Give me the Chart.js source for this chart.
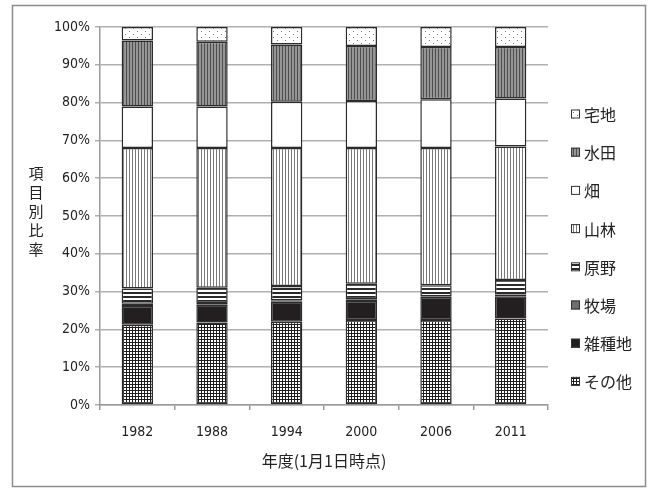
<!DOCTYPE html>
<html>
<head>
<meta charset="utf-8">
<script src="https://cdn.jsdelivr.net/npm/chart.js@4/dist/chart.umd.min.js"></script>
<style>
  html, body { margin: 0; padding: 0; background: #fff; }
  #wrap { width: 652px; height: 489px; position: relative; }
</style>
</head>
<body>
<div id="wrap"><canvas id="c" width="652" height="489"></canvas></div>
<script>
// 年度ごとの土地利用項目別比率（%）
const years = ['1982', '1988', '1994', '2000', '2006', '2011'];
const sonota   = [21.2, 21.8, 22.0, 22.5, 22.5, 22.9]; // その他
const zasshuchi = [5.0, 4.7, 5.3, 5.0, 6.1, 5.9];      // 雑種地
const bokujo   = [0.6, 0.5, 0.4, 0.5, 0.2, 0.4];       // 牧場
const genya    = [4.0, 4.0, 3.8, 4.1, 2.9, 3.9];       // 原野
const sanrin   = [37.2, 37.0, 36.5, 35.9, 36.3, 35.3]; // 山林
const hatake   = [11.0, 11.0, 12.2, 12.4, 12.9, 12.7]; // 畑
const suiden   = [17.4, 17.1, 15.2, 14.6, 13.8, 13.6]; // 水田
const takuchi  = [3.6, 3.9, 4.6, 5.0, 5.3, 5.3];       // 宅地
const yTicks = [0, 10, 20, 30, 40, 50, 60, 70, 80, 90, 100];

const CJK = '"Noto Sans CJK JP", "Noto Sans", sans-serif';
const NARROW = '"Liberation Sans Narrow", "DejaVu Sans Condensed", "Liberation Sans", sans-serif';

// 塗りパターン
function makePattern(w, h, draw) {
  const c = document.createElement('canvas');
  c.width = w; c.height = h;
  const g = c.getContext('2d');
  g.fillStyle = '#fff';
  g.fillRect(0, 0, w, h);
  draw(g);
  return c.getContext('2d').createPattern(c, 'repeat');
}
const pGrid = makePattern(3, 3, g => {       // 格子
  g.fillStyle = '#1e1e1e';
  g.fillRect(0, 0, 3, 1);
  g.fillRect(0, 0, 1, 3);
});
const pHStripe = makePattern(4, 4, g => {    // 横縞
  g.fillStyle = '#2a2a2a';
  g.fillRect(0, 0, 4, 2);
});
const pVThin = makePattern(3, 3, g => {      // 細い縦線
  g.fillStyle = '#7a7a7a';
  g.fillRect(0, 0, 1, 3);
});
const pVDark = makePattern(3, 3, g => {      // 濃い縦縞
  g.fillStyle = '#959595';
  g.fillRect(0, 0, 3, 3);
  g.fillStyle = '#4e4e4e';
  g.fillRect(0, 0, 1, 3);
});
const pDots = makePattern(8, 6, g => {       // 点
  g.fillStyle = '#777';
  g.fillRect(1, 1, 1, 1);
  g.fillRect(5, 4, 1, 1);
});

const series = [
  { label: 'その他', data: sonota, fill: pGrid },
  { label: '雑種地', data: zasshuchi, fill: '#231f20' },
  { label: '牧場', data: bokujo, fill: '#6e6e6e' },
  { label: '原野', data: genya, fill: pHStripe },
  { label: '山林', data: sanrin, fill: pVThin },
  { label: '畑', data: hatake, fill: '#ffffff' },
  { label: '水田', data: suiden, fill: pVDark },
  { label: '宅地', data: takuchi, fill: pDots }
];

const datasets = series.map(s => ({
  label: s.label,
  data: s.data,
  backgroundColor: s.fill,
  borderColor: '#2b2b2b',
  borderWidth: 1.5,
  borderSkipped: false,
  barPercentage: 0.42,
  categoryPercentage: 1.0
}));

// 枠・縦書き軸タイトル・凡例
const decor = {
  id: 'decor',
  afterDraw(chart) {
    const ctx = chart.ctx;
    ctx.save();
    ctx.strokeStyle = '#8c8c8c';
    ctx.lineWidth = 1.5;
    ctx.strokeRect(12.5, 5.5, 633, 481);

    ctx.fillStyle = '#222';
    ctx.font = '15px ' + CJK;
    ctx.textAlign = 'center';
    ctx.textBaseline = 'middle';
    const yTitle = '項目別比率';
    for (let i = 0; i < yTitle.length; i++) {
      ctx.fillText(yTitle[i], 36, 173 + i * 19);
    }

    ctx.font = '16px ' + CJK;
    ctx.fillText('年度(1月1日時点)', (chart.chartArea.left + chart.chartArea.right) / 2, 461);

    const items = series.slice().reverse();
    ctx.textAlign = 'left';
    ctx.font = '16px ' + CJK;
    items.forEach((s, i) => {
      const cy = 114 + i * 38.2;
      ctx.fillStyle = s.fill;
      ctx.fillRect(571, cy - 4.5, 9, 9);
      ctx.strokeStyle = '#333';
      ctx.lineWidth = 1;
      ctx.strokeRect(571.5, cy - 4, 8, 8);
      ctx.fillStyle = '#222';
      ctx.fillText(s.label, 584, cy + 1);
    });
    ctx.restore();
  }
};

new Chart(document.getElementById('c'), {
  type: 'bar',
  data: { labels: years, datasets },
  plugins: [decor],
  options: {
    responsive: false,
    animation: false,
    layout: { padding: { left: 0, right: 104, top: 27, bottom: 0 } },
    plugins: { legend: { display: false }, tooltip: { enabled: false } },
    scales: {
      x: {
        stacked: true,
        afterFit(s) { s.height = 84; },
        grid: {
          offset: true,
          drawOnChartArea: false,
          drawTicks: true,
          tickLength: 5,
          color: '#9a9a9a',
          lineWidth: 1.5
        },
        border: { color: '#9a9a9a', width: 1.5 },
        ticks: {
          color: '#222',
          padding: 14,
          font: { family: NARROW, size: 14 }
        }
      },
      y: {
        stacked: true,
        min: 0,
        max: 100,
        afterFit(s) { s.width = 100; },
        afterBuildTicks(s) { s.ticks = yTicks.map(v => ({ value: v })); },
        grid: {
          color: '#b0b0b0',
          lineWidth: 1.5,
          tickLength: 5
        },
        border: { color: '#9a9a9a', width: 1.5 },
        ticks: {
          color: '#222',
          padding: 5,
          font: { family: NARROW, size: 14 },
          callback: v => v + '%'
        }
      }
    }
  }
});
</script>
</body>
</html>
